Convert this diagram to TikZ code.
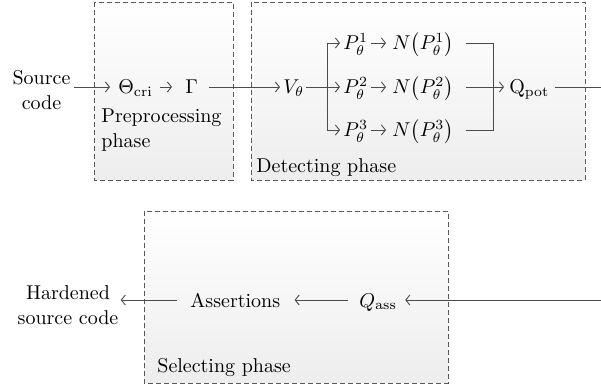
\documentclass[tikz,border=0pt]{standalone}
\usetikzlibrary{arrows.meta}
\begin{document}
\begin{tikzpicture}[x=0.5pt,y=-0.5pt,
  every node/.style={font=\fontsize{10}{12.5}\selectfont, inner sep=0pt, text=black},
  row/.style={text height=7pt, text depth=0pt, anchor=west},
  conn/.style={draw=black!70, line width=0.45pt},
  arr/.style={conn, -{Straight Barb[length=2pt,width=5pt]}},
  phase/.style={draw=black!65, dash pattern=on 2.5pt off 1.5pt, line width=0.45pt, top color=white, bottom color=black!7},
  lbl/.style={anchor=base west, align=left}]
\useasboundingbox (0,0) rectangle (601,390);
% phase boxes
\path[phase] (94,2) rectangle (233,180);
\path[phase] (251,2) rectangle (585,180);
\path[phase] (144,211) rectangle (448,383);
\node[lbl] (lpre) at (101,148) {Preprocessing\\phase};
\node[lbl] (ldet) at (256,173) {Detecting phase};
\node[lbl] (lsel) at (157,372) {Selecting phase};
% top row
\node[align=center] (src) at (41.5,90) {Source\\code};
\node[row] (theta) at (118,87) {$\Theta_{\mathrm{cri}}$};
\node[row] (gam) at (185,87) {$\Gamma$};
\node[row] (v) at (283,87) {$V_\theta$};
\coordinate (br) at (327,87);
\node[row] (p1) at (343,43) {$P_\theta^1$};
\node[row] (p2) at (343,87) {$P_\theta^2$};
\node[row] (p3) at (343,130) {$P_\theta^3$};
\node[row] (n1) at (392,43) {$N\big(P_\theta^1\big)$};
\node[row] (n2) at (392,87) {$N\big(P_\theta^2\big)$};
\node[row] (n3) at (392,130) {$N\big(P_\theta^3\big)$};
\coordinate (mg) at (493,87);
\node[row] (q) at (509,87) {$\mathrm{Q}_{\mathrm{pot}}$};
\coordinate (re) at (601,87);
% bottom row
\coordinate (rb) at (601,300);
\node[row] (qa) at (359,300) {$Q_{\mathrm{ass}}$};
\node[row] (as) at (190,300) {Assertions};
\node[align=center] (hard) at (68,305) {Hardened\\source code};
% connectors
\draw[arr, shorten <=1.5pt, shorten >=4pt] (src.east |- theta.west) -- (theta.west);
\draw[arr, shorten <=3.5pt, shorten >=6.5pt] (theta.east) -- (gam.west);
\draw[arr, shorten <=5.5pt, shorten >=1.5pt] (gam.east) -- (v.west);
\draw[conn, shorten <=0.5pt] (v.east) -- (br);
\draw[arr, shorten >=1.5pt] (br) -- (p2.west);
\draw[arr, shorten >=1.5pt] (br) |- (p1.west);
\draw[arr, shorten >=1.5pt] (br) |- (p3.west);
\foreach \i in {1,2,3}{
  \draw[arr, shorten <=1.5pt, shorten >=3pt] (p\i.east) -- (n\i.west);
}
\draw[conn, shorten <=6pt] (n1.east) -| (mg);
\draw[conn, shorten <=6pt] (n3.east) -| (mg);
\draw[arr, shorten <=6pt, shorten >=2.5pt] (n2.east) -- (q.west);
\draw[conn, shorten <=2.5pt] (q.east) -- (re);
\draw[arr, shorten >=4pt] (rb) -- (qa.east);
\draw[arr, shorten <=5.5pt, shorten >=7pt] (qa.west) -- (as.east);
\draw[arr, shorten <=6.5pt, shorten >=1pt] (as.west) -- (hard.east |- as.west);
\end{tikzpicture}
\end{document}
